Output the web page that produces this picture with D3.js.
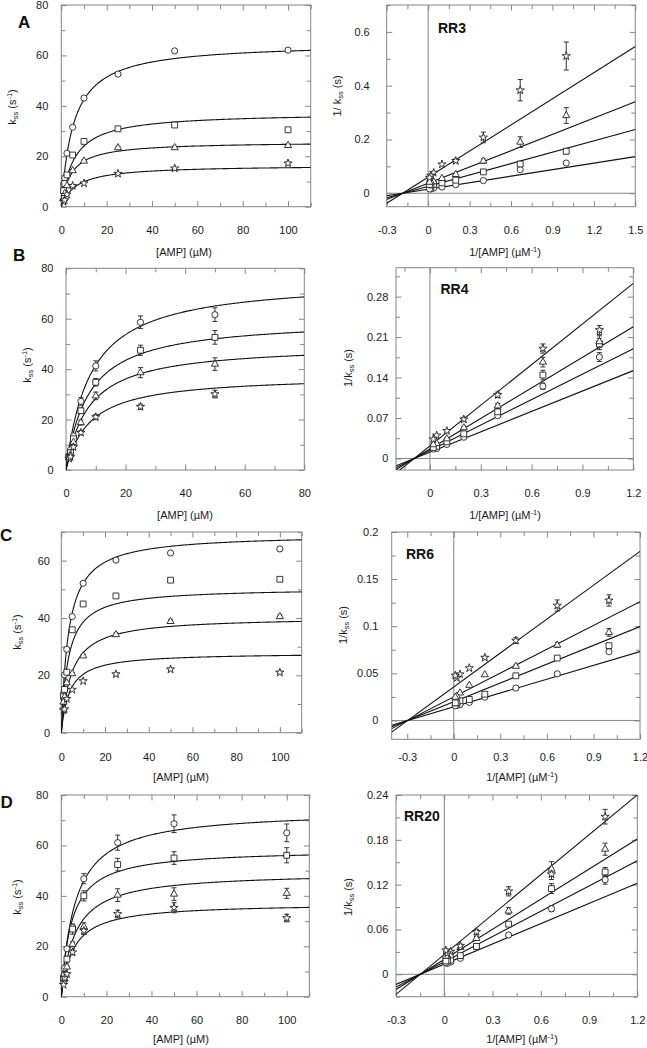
<!DOCTYPE html>
<html><head><meta charset="utf-8">
<script src="https://cdn.jsdelivr.net/npm/d3@7"></script>
<style>body{margin:0;background:#fff} svg{display:block} text{font-family:"Liberation Sans",Arial,sans-serif}</style>
</head><body><svg id="c" width="647" height="1048"></svg>
<script>
// ---------- data (series order: circle, square, triangle, star) ----------
const amp  = [1, 1.5, 2.5, 5, 10, 25, 50, 100];
const ampB = [1, 1.5, 2.5, 5, 10, 25, 50];

const kssA = [
  [8.9, 11.4, 21.2, 31.5, 43.1, 52.6, 61.8, 62.1],
  [6.4, 9.2, 12.6, 20.5, 25.9, 30.9, 32.4, 30.5],
  [3.46, 5.26, 8.35, 14.3, 18.1, 23.4, 23.4, 24.3],
  [1.96, 2.61, 4.82, 8.3, 9.3, 13.1, 15.2, 17.2]];
const errA = [
  [0.1, 0.15, 0.2, 0.3, 0.4, 0.6, 0.6, 0.6],
  [0.4, 0.6, 0.4, 0.4, 0.5, 0.6, 0.6, 0.6],
  [0.35, 0.55, 0.55, 0.4, 0.5, 0.6, 0.6, 0.6],
  [0.2, 0.27, 0.46, 0.5, 0.3, 0.4, 0.4, 0.4]];
const vmaxA = [65, 37.3, 25.8, 16.5];
const kmA   = [5.3, 5.5, 4.3, 6.7];
const lbIntA   = [0.0149, 0.0259, 0.0371, 0.0597];
const lbSlopeA = [0.0808, 0.141, 0.202, 0.324];

const kssB = [
  [5.7, 8.0, 13.5, 27.2, 41.3, 58.6, 61.6],
  [5.05, 6.93, 12.4, 23.5, 34.8, 47.5, 52.6],
  [4.95, 6.0, 11.0, 18.8, 29.4, 38.6, 42.0],
  [4.5, 5.26, 9.1, 14.8, 21.0, 25.1, 30.1]];
const errB = [
  [0.25, 0.35, 0.6, 1.5, 2, 2.5, 2.7],
  [0.25, 0.4, 0.6, 1, 1.5, 2, 2.7],
  [0.25, 0.3, 0.5, 1, 1.5, 2, 2.5],
  [0.16, 0.22, 0.4, 0.8, 1, 1, 1.5]];
const vmaxB = [75.7, 59.9, 49.8, 37.6];
const kmB   = [8.2, 7.55, 7.6, 7.9];
const lbIntB   = [0.0108, 0.0135, 0.0162, 0.0216];
const lbSlopeB = [0.1176, 0.147, 0.1765, 0.2345];

const kssC = [
  [13.7, 20.2, 29.1, 40.5, 52.1, 60.2, 62.7, 64.1],
  [12.6, 15.1, 21.1, 35.9, 44.9, 47.7, 53.2, 53.5],
  [10.7, 12.5, 17.4, 20.6, 26.8, 34.2, 38.8, 40.5],
  [7.85, 8.2, 11.8, 15.0, 18.0, 20.4, 22.1, 21.0]];
const errC = [
  [0.3, 0.3, 0.4, 0.5, 0.5, 0.6, 0.6, 0.6],
  [0.3, 0.3, 0.4, 0.5, 0.5, 0.6, 0.6, 0.6],
  [0.46, 0.4, 0.4, 0.4, 0.5, 0.6, 0.6, 0.6],
  [0.37, 0.4, 0.42, 0.3, 0.3, 0.4, 0.4, 0.4]];
const vmaxC = [69.3, 50.5, 40.4, 27.9];
const kmC   = [3.3, 3.1, 4.5, 3.7];
const lbIntC   = [0.0145, 0.0198, 0.025, 0.0356];
const lbSlopeC = [0.0488, 0.0665, 0.0842, 0.1199];

const kssD = [
  [7.9, 11.4, 19.0, 27.5, 46.8, 61.1, 68.6, 65.0],
  [7.3, 8.72, 14.9, 26.8, 40.0, 52.4, 55.0, 56.1],
  [5.97, 7.1, 11.8, 20.8, 27.8, 40.3, 40.7, 41.0],
  [4.74, 7.46, 9.0, 17.6, 26.2, 32.8, 35.3, 31.2]];
const errD = [
  [0.37, 0.5, 0.6, 1, 2, 3, 3.5, 3.5],
  [0.32, 0.5, 0.6, 2, 2, 2.5, 2.5, 3],
  [0.29, 0.5, 0.6, 1, 1.5, 2.5, 2.5, 2],
  [0.22, 0.4, 0.5, 1, 1.5, 1.5, 2, 1.5]];
const vmaxD = [74.0, 58.5, 49.4, 37.1];
const kmD   = [6.1, 4.5, 6.0, 5.2];
const lbIntD   = [0.0135, 0.0168, 0.02, 0.0265];
const lbSlopeD = [0.0904, 0.1127, 0.1342, 0.178];

// tick labels
const ampTicks110 = [0, 20, 40, 60, 80, 100];
const ampTicks80  = [0, 20, 40, 60, 80];
const kssTicks80  = [0, 20, 40, 60, 80];
const kssTicks70  = [0, 20, 40, 60];
const recipTicksA = [-0.3, 0, 0.3, 0.6, 0.9, 1.2, 1.5];
const recipTicksB = [0, 0.3, 0.6, 0.9, 1.2];
const recipTicksCD = [-0.3, 0, 0.3, 0.6, 0.9, 1.2];
const invTicksA = [0, 0.2, 0.4, 0.6];
const invTicksB = [0, 0.07, 0.14, 0.21, 0.28];
const invTicksC = [0, 0.05, 0.1, 0.15, 0.2];
const invTicksD = [0, 0.06, 0.12, 0.18, 0.24];

const panelLetters = ["A", "B", "C", "D"];
const mutantNames = ["RR3", "RR4", "RR6", "RR20"];

// ---------- drawing ----------
const svg = d3.select("#c");
svg.append("rect").attr("width", 647).attr("height", 1048).attr("fill", "#fff");

const FRAME = "#858585", INK = "#1a1a1a";
const symbols = [d3.symbolCircle, d3.symbolSquare, d3.symbolTriangle, d3.symbolStar];
const symSizes = [30, 34, 22, 21];

function minorsOf(majors, dom) {
  const step = majors[1] - majors[0], half = step / 2, out = [];
  const k0 = Math.ceil(dom[0] / half - 1e-9), k1 = Math.floor(dom[1] / half + 1e-9);
  for (let k = k0; k <= k1; k++) if (Math.abs(k) % 2 === 1) out.push(k * half);
  return out;
}

function drawPanel(p, idx) {
  const [x0, x1, y0, y1] = p.box;
  const x = d3.scaleLinear().domain(p.xd).range([x0, x1]);
  const y = d3.scaleLinear().domain(p.yd).range([y1, y0]);
  const g = svg.append("g");
  const clipId = "clip" + idx;
  svg.append("clipPath").attr("id", clipId).append("rect")
    .attr("x", x0).attr("y", y0).attr("width", x1 - x0).attr("height", y1 - y0);

  const xMaj = p.xt.filter(v => v >= p.xd[0] - 1e-9 && v <= p.xd[1] + 1e-9);
  const yMaj = p.yt.filter(v => v >= p.yd[0] - 1e-9 && v <= p.yd[1] + 1e-9);
  const xMin = minorsOf(p.xt, p.xd), yMin = minorsOf(p.yt, p.yd);

  function axis(gen, tr, vals, size, pad, labels) {
    const a = g.append("g").attr("transform", tr)
      .call(gen.tickValues(vals).tickSize(size).tickPadding(pad)
        .tickFormat(labels ? (d => String(d)) : ""));
    a.select(".domain").remove();
    a.attr("font-family", null).attr("font-size", 11);
    a.selectAll("line").attr("stroke", FRAME).attr("stroke-width", 1);
    a.selectAll("text").attr("fill", INK);
    return a;
  }
  const xPad = p.labelRow - y1 - 3.9;
  axis(d3.axisBottom(x), `translate(0,${y1})`, xMaj, -5.5, xPad, true);
  axis(d3.axisBottom(x), `translate(0,${y1})`, xMin, -4, 0, false);
  axis(d3.axisTop(x), `translate(0,${y0})`, xMaj, -5.5, 0, false);
  axis(d3.axisTop(x), `translate(0,${y0})`, xMin, -4, 0, false);
  axis(d3.axisLeft(y), `translate(${x0},0)`, yMaj, -5.5, p.yPad, true);
  axis(d3.axisLeft(y), `translate(${x0},0)`, yMin, -4, 0, false);
  axis(d3.axisRight(y), `translate(${x1},0)`, yMaj, -5.5, 0, false);
  axis(d3.axisRight(y), `translate(${x1},0)`, yMin, -4, 0, false);

  g.append("rect").attr("x", x0).attr("y", y0).attr("width", x1 - x0).attr("height", y1 - y0)
    .attr("fill", "none").attr("stroke", FRAME).attr("stroke-width", 1);

  const plot = g.append("g").attr("clip-path", `url(#${clipId})`);
  const line = d3.line().x(d => x(d[0])).y(d => y(d[1]));

  if (p.type === "lb") {
    plot.append("line").attr("x1", x(0)).attr("x2", x(0)).attr("y1", y0).attr("y2", y1)
      .attr("stroke", FRAME).attr("stroke-width", 1);
    plot.append("line").attr("x1", x0).attr("x2", x1).attr("y1", y(0)).attr("y2", y(0))
      .attr("stroke", FRAME).attr("stroke-width", 1);
    p.lbInt.forEach((a, s) => {
      const b = p.lbSlope[s];
      plot.append("path").attr("d", line([[p.xd[0], a + b * p.xd[0]], [p.xd[1], a + b * p.xd[1]]]))
        .attr("fill", "none").attr("stroke", "#111").attr("stroke-width", 1.1);
    });
  } else {
    p.vmax.forEach((V, s) => {
      const K = p.km[s];
      const pts = d3.range(0, 301).map(i => { const S = p.xd[1] * Math.pow(i / 300, 2); return [S, V * S / (K + S)]; });
      plot.append("path").attr("d", line(pts))
        .attr("fill", "none").attr("stroke", "#111").attr("stroke-width", 1.1);
    });
  }

  // points with error bars
  const recs = [];
  p.kss.forEach((arr, s) => arr.forEach((k, i) => {
    const S = p.conc[i], e = p.err[s][i];
    if (p.type === "lb") recs.push({ s, xv: 1 / S, yv: 1 / k, ev: e / (k * k) });
    else recs.push({ s, xv: S, yv: k, ev: e });
  }));
  const eb = g.append("g").attr("stroke", "#333").attr("stroke-width", 1);
  recs.forEach(r => {
    const cx = x(r.xv), ya = y(r.yv + r.ev), yb = y(r.yv - r.ev);
    if (ya > yb - 2) return;
    eb.append("line").attr("x1", cx).attr("x2", cx).attr("y1", ya).attr("y2", yb);
    eb.append("line").attr("x1", cx - 2.5).attr("x2", cx + 2.5).attr("y1", ya).attr("y2", ya);
    eb.append("line").attr("x1", cx - 2.5).attr("x2", cx + 2.5).attr("y1", yb).attr("y2", yb);
  });
  g.append("g").selectAll("path").data(recs).join("path")
    .attr("transform", d => `translate(${x(d.xv)},${y(d.yv)})`)
    .attr("d", d => d3.symbol(symbols[d.s], symSizes[d.s])())
    .attr("fill", "#fff").attr("stroke", "#222").attr("stroke-width", 0.9);

  // axis titles
  const xt = g.append("text").attr("x", p.xTitle[0]).attr("y", p.xTitle[1]).attr("dy", "0.35em")
    .attr("text-anchor", "middle").attr("font-size", 11).attr("fill", INK);
  const yt = g.append("text").attr("transform", `translate(${p.yTitle[0]},${p.yTitle[1]}) rotate(-90)`)
    .attr("dy", "0.35em").attr("text-anchor", "middle").attr("font-size", 11).attr("fill", INK);
  if (p.type === "lb") {
    xt.append("tspan").text("1/[AMP] (µM");
    xt.append("tspan").attr("font-size", 7.5).attr("dy", -4).text("-1");
    xt.append("tspan").attr("dy", 4).text(")");
    yt.append("tspan").text(p.yPrefix + "k");
    yt.append("tspan").attr("font-size", 7.5).attr("dy", 2.5).text("ss");
    yt.append("tspan").attr("dy", -2.5).text(" (s)");
  } else {
    xt.text("[AMP] (µM)");
    yt.append("tspan").text("k");
    yt.append("tspan").attr("font-size", 7.5).attr("dy", 2.5).text("ss");
    yt.append("tspan").attr("dy", -2.5).text(" (s");
    yt.append("tspan").attr("font-size", 7.5).attr("dy", -4).text("-1");
    yt.append("tspan").attr("dy", 4).text(")");
  }
  if (p.tag) {
    g.append("text").attr("x", p.tag[0]).attr("y", p.tag[1]).attr("font-size", p.tag[3])
      .attr("font-weight", "bold").attr("fill", "#111").text(p.tag[2]);
  }
}

const panels = [
  { type: "mm", box: [61.3, 310.7, 5, 206.7], xd: [0, 110], yd: [0, 80], xt: ampTicks110, yt: kssTicks80,
    conc: amp, kss: kssA, err: errA, vmax: vmaxA, km: kmA, labelRow: 230, yPad: 13,
    xTitle: [184, 252], yTitle: [12, 107], tag: [18, 28, panelLetters[0], 17] },
  { type: "lb", box: [386.7, 635.3, 5, 206.7], xd: [-0.3, 1.5], yd: [-0.05, 0.7], xt: recipTicksA, yt: invTicksA,
    conc: amp, kss: kssA, err: errA, lbInt: lbIntA, lbSlope: lbSlopeA, labelRow: 230, yPad: 17,
    xTitle: [505, 252], yTitle: [337, 96], yPrefix: "1/ ", tag: [438, 32.5, mutantNames[0], 14] },
  { type: "mm", box: [66, 304.3, 268.3, 470], xd: [0, 80], yd: [0, 80], xt: ampTicks80, yt: kssTicks80,
    conc: ampB, kss: kssB, err: errB, vmax: vmaxB, km: kmB, labelRow: 493, yPad: 12.5,
    xTitle: [185, 515], yTitle: [27, 365], tag: [13, 261, panelLetters[1], 17] },
  { type: "lb", box: [396, 633.3, 267.7, 470], xd: [-0.2, 1.2], yd: [-0.02, 0.33], xt: recipTicksB, yt: invTicksB,
    conc: ampB, kss: kssB, err: errB, lbInt: lbIntB, lbSlope: lbSlopeB, labelRow: 493, yPad: 7.7,
    xTitle: [505, 515], yTitle: [348, 368], yPrefix: "1/", tag: [440.5, 293.5, mutantNames[1], 14] },
  { type: "mm", box: [61.3, 301.7, 532, 732.7], xd: [0, 110], yd: [0, 70], xt: ampTicks110, yt: kssTicks70,
    conc: amp, kss: kssC, err: errC, vmax: vmaxC, km: kmC, labelRow: 757, yPad: 11.3,
    xTitle: [181, 777], yTitle: [17, 632], tag: [0, 541, panelLetters[2], 17] },
  { type: "lb", box: [391.7, 640, 532, 739.3], xd: [-0.4, 1.2], yd: [-0.02, 0.2], xt: recipTicksCD, yt: invTicksC,
    conc: amp, kss: kssC, err: errC, lbInt: lbIntC, lbSlope: lbSlopeC, labelRow: 757, yPad: 13.4,
    xTitle: [522, 777], yTitle: [343, 625], yPrefix: "1/", tag: [406, 558.5, mutantNames[2], 14] },
  { type: "mm", box: [61.3, 309.3, 795, 996.7], xd: [0, 110], yd: [0, 80], xt: ampTicks110, yt: kssTicks80,
    conc: amp, kss: kssD, err: errD, vmax: vmaxD, km: kmD, labelRow: 1020, yPad: 13,
    xTitle: [181, 1039], yTitle: [17, 897], tag: [0.5, 808, panelLetters[3], 17] },
  { type: "lb", box: [396, 637.3, 795, 996.7], xd: [-0.3, 1.2], yd: [-0.03, 0.24], xt: recipTicksCD, yt: invTicksD,
    conc: amp, kss: kssD, err: errD, lbInt: lbIntD, lbSlope: lbSlopeD, labelRow: 1020, yPad: 7.7,
    xTitle: [522, 1039], yTitle: [348, 897], yPrefix: "1/", tag: [404, 821, mutantNames[3], 14] }
];
panels.forEach(drawPanel);
</script></body></html>
